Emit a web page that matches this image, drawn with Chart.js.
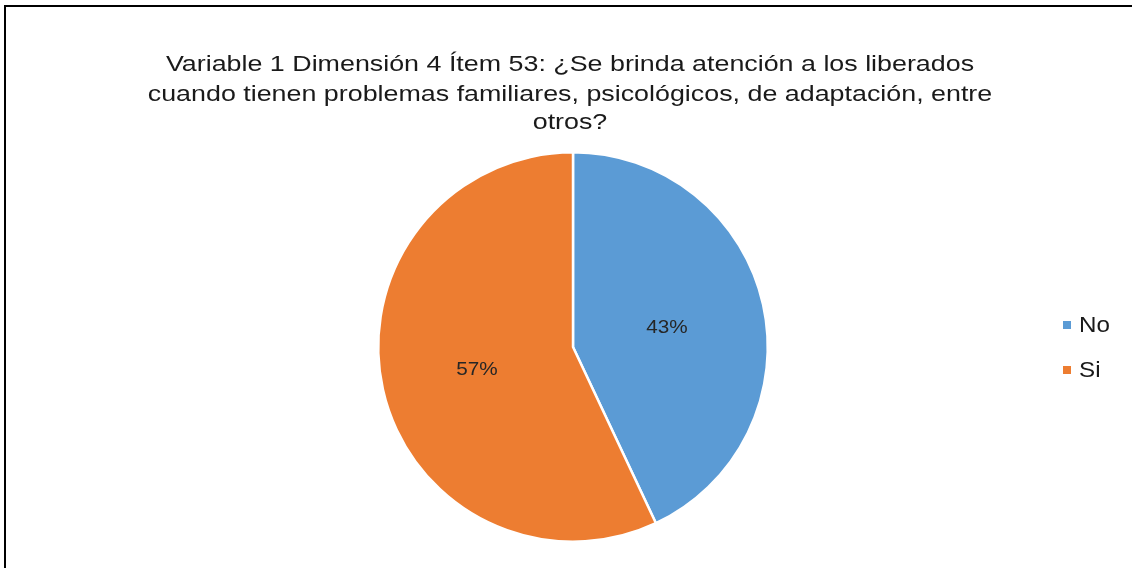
<!DOCTYPE html>
<html>
<head>
<meta charset="utf-8">
<script src="https://cdn.jsdelivr.net/npm/chart.js@4/dist/chart.umd.min.js"></script>
<style>
  html, body { margin: 0; padding: 0; background: #ffffff; }
  #wrap { width: 1132px; height: 568px; position: relative; }
</style>
</head>
<body>
<div id="wrap"><canvas id="c" width="1132" height="568"></canvas></div>
<script>
const titleLines = [
  "Variable 1 Dimensión 4 Ítem 53: ¿Se brinda atención a los liberados",
  "cuando tienen problemas familiares, psicológicos, de adaptación, entre",
  "otros?"
];
const categories = ["No", "Si"];
const values = [43, 57];
const colors = ["#5B9BD5", "#ED7D31"];

const FONT = '"Liberation Sans", Arial, sans-serif';

function stretchedText(ctx, text, x, y, sx) {
  ctx.save();
  ctx.translate(x, y);
  ctx.scale(sx, 1);
  ctx.fillText(text, 0, 0);
  ctx.restore();
}

const decor = {
  id: 'decor',
  beforeDraw(chart) {
    const ctx = chart.ctx;
    ctx.save();
    ctx.fillStyle = '#ffffff';
    ctx.fillRect(0, 0, chart.width, chart.height);
    ctx.fillStyle = '#000000';
    ctx.fillRect(4, 5, 1128, 2);
    ctx.fillRect(4, 5, 2, 563);
    ctx.restore();
  },
  afterDraw(chart) {
    const ctx = chart.ctx;
    ctx.save();
    // title
    ctx.fillStyle = '#1a1a1a';
    ctx.font = '22px ' + FONT;
    ctx.textAlign = 'center';
    ctx.textBaseline = 'alphabetic';
    const baselines = [71, 101, 129];
    titleLines.forEach((t, i) => stretchedText(ctx, t, 570, baselines[i], 1.22));

    // data labels
    const meta = chart.getDatasetMeta(0);
    const total = values.reduce((a, b) => a + b, 0);
    ctx.font = '18px ' + FONT;
    ctx.fillStyle = '#262626';
    ctx.textBaseline = 'middle';
    meta.data.forEach((arc, i) => {
      const mid = (arc.startAngle + arc.endAngle) / 2;
      const r = arc.outerRadius * 0.5;
      const x = arc.x + Math.cos(mid) * r;
      const y = arc.y + Math.sin(mid) * r + 2;
      stretchedText(ctx, Math.round(values[i] / total * 100) + '%', x - 1, y, 1.15);
    });

    // legend
    ctx.textAlign = 'left';
    ctx.font = '22px ' + FONT;
    const ly = [325, 370];
    categories.forEach((c, i) => {
      ctx.fillStyle = colors[i];
      ctx.fillRect(1063, ly[i] - 4, 8, 8);
      ctx.fillStyle = '#1a1a1a';
      stretchedText(ctx, c, 1079, ly[i] + 1, 1.1);
    });
    ctx.restore();
  }
};

new Chart(document.getElementById('c'), {
  type: 'pie',
  data: {
    labels: categories,
    datasets: [{
      data: values,
      backgroundColor: colors,
      borderColor: '#ffffff',
      borderWidth: 2.5
    }]
  },
  options: {
    responsive: false,
    animation: false,
    layout: { padding: { left: 377, right: 363, top: 151, bottom: 25 } },
    plugins: {
      legend: { display: false },
      title: { display: false },
      tooltip: { enabled: false }
    }
  },
  plugins: [decor]
});
</script>
</body>
</html>
